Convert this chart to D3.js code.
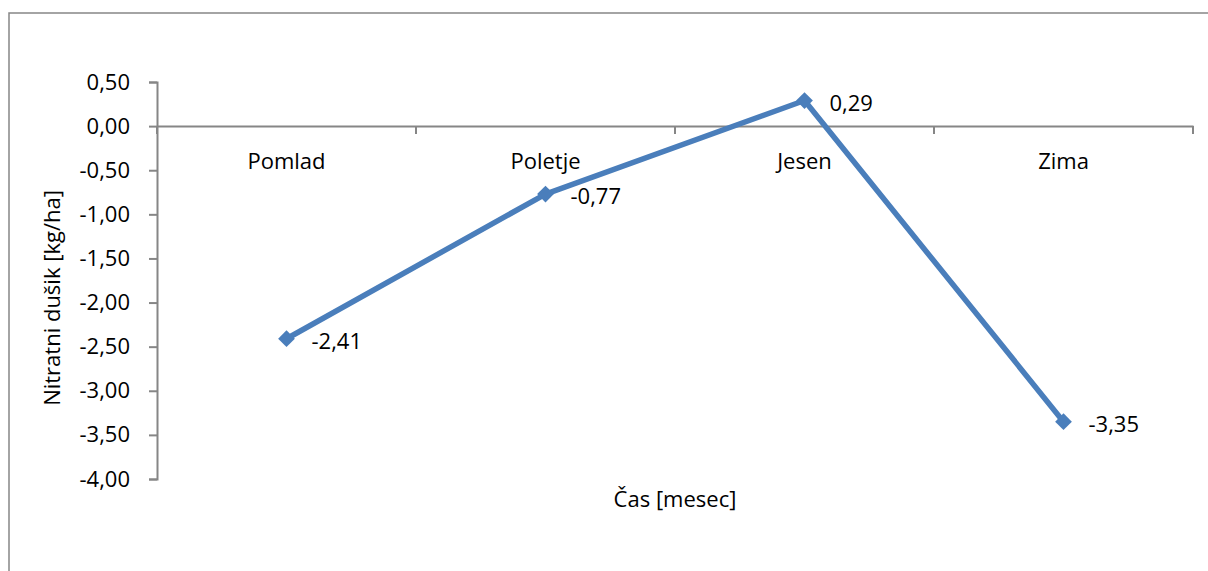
<!DOCTYPE html>
<html>
<head>
<meta charset="utf-8">
<script src="https://cdn.jsdelivr.net/npm/d3@7"></script>
<style>
  html, body { margin: 0; padding: 0; background: #fff; }
  svg { display: block; }
  text { font-family: "Open Sans", sans-serif; fill: #000; }
</style>
</head>
<body>
<svg id="chart" width="1208" height="571"></svg>
<script>
// Seasonal nitrate nitrogen balance
const seasons = ["Pomlad", "Poletje", "Jesen", "Zima"];
const nitrate = [-2.41, -0.77, 0.29, -3.35];
const yTicks = [0.5, 0, -0.5, -1, -1.5, -2, -2.5, -3, -3.5, -4];
const yTitle = "Nitratni dušik [kg/ha]";
const xTitle = "Čas [mesec]";

const plot = { left: 157, right: 1193, top: 82, bottom: 479 };
const fmt = v => d3.format(".2f")(v).replace(".", ",").replace("−", "-");
const fontFamily = "'Open Sans', sans-serif";
const fontSize = 22;

const svg = d3.select("#chart");

// outer chart frame
svg.append("rect")
  .attr("x", 9).attr("y", 13)
  .attr("width", 1250).attr("height", 600)
  .attr("fill", "none").attr("stroke", "#868686").attr("stroke-width", 1.5);

const x = d3.scaleBand().domain(seasons).range([plot.left, plot.right]);
const y = d3.scaleLinear().domain([-4, 0.5]).range([plot.bottom, plot.top]);

const axisColor = "#868686";

// value axis
const yAxis = svg.append("g")
  .attr("transform", `translate(${plot.left},0)`)
  .call(d3.axisLeft(y).tickValues(yTicks).tickFormat(fmt).tickSize(8).tickPadding(19));
yAxis.attr("font-family", fontFamily).attr("font-size", fontSize);
yAxis.select(".domain").attr("stroke", axisColor).attr("stroke-width", 2);
yAxis.selectAll(".tick line").attr("stroke", axisColor).attr("stroke-width", 2);
yAxis.selectAll(".tick text").attr("fill", "#000");

// category axis crossing at zero
const xAxis = svg.append("g")
  .attr("transform", `translate(0,${y(0)})`)
  .call(d3.axisBottom(x).tickSize(0).tickFormat(() => ""));
xAxis.select(".domain").attr("stroke", axisColor).attr("stroke-width", 2);
xAxis.selectAll(".tick").remove();

// tick marks between categories
const boundaries = d3.range(seasons.length + 1).map(i => plot.left + i * x.bandwidth());
svg.append("g").selectAll("line").data(boundaries).join("line")
  .attr("x1", d => d).attr("x2", d => d)
  .attr("y1", y(0)).attr("y2", y(0) + 8)
  .attr("stroke", axisColor).attr("stroke-width", 2);

// category labels
svg.append("g").selectAll("text").data(seasons).join("text")
  .attr("x", d => x(d) + x.bandwidth() / 2)
  .attr("y", y(0) + 43)
  .attr("text-anchor", "middle")
  .attr("font-size", fontSize)
  .text(d => d);

// series line
const pts = seasons.map((s, i) => ({ s, v: nitrate[i] }));
const cx = d => x(d.s) + x.bandwidth() / 2;

svg.append("path")
  .datum(pts)
  .attr("fill", "none")
  .attr("stroke", "#4A7EBB")
  .attr("stroke-width", 5.5)
  .attr("stroke-linejoin", "round")
  .attr("d", d3.line().x(cx).y(d => y(d.v)));

// diamond markers
svg.append("g").selectAll("path").data(pts).join("path")
  .attr("d", d3.symbol().type(d3.symbolSquare).size(140))
  .attr("transform", d => `translate(${cx(d)},${y(d.v)}) rotate(45)`)
  .attr("fill", "#4A7EBB");

// value labels
svg.append("g").selectAll("text").data(pts).join("text")
  .attr("x", d => cx(d) + 25)
  .attr("y", d => y(d.v) + 10)
  .attr("font-size", fontSize)
  .text(d => fmt(d.v));

// axis titles
svg.append("text")
  .attr("transform", `translate(60,298) rotate(-90)`)
  .attr("text-anchor", "middle")
  .attr("font-size", fontSize)
  .text(yTitle);

svg.append("text")
  .attr("x", 675).attr("y", 507)
  .attr("text-anchor", "middle")
  .attr("font-size", fontSize)
  .text(xTitle);
</script>
</body>
</html>
